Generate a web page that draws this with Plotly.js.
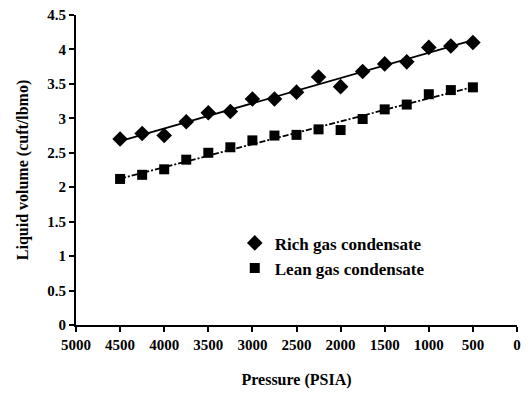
<!DOCTYPE html>
<html>
<head>
<meta charset="utf-8">
<script src="https://cdn.plot.ly/plotly-3.0.1.min.js"></script>
<style>html,body{margin:0;padding:0;background:#fff;}#chart{width:528px;height:396px;}</style>
</head>
<body>
<div id="chart"></div>
<script>
const pressure = [4500, 4250, 4000, 3750, 3500, 3250, 3000, 2750, 2500, 2250, 2000, 1750, 1500, 1250, 1000, 750, 500];
const richVolume = [2.70, 2.78, 2.75, 2.95, 3.08, 3.10, 3.28, 3.28, 3.38, 3.60, 3.46, 3.68, 3.79, 3.82, 4.03, 4.05, 4.10];
const leanVolume = [2.12, 2.18, 2.26, 2.40, 2.50, 2.58, 2.68, 2.75, 2.76, 2.84, 2.83, 2.99, 3.13, 3.20, 3.35, 3.41, 3.45];
const seriesNames = ['Rich gas condensate', 'Lean gas condensate'];

function fit(x, y) {
  const n = x.length;
  let sx = 0, sy = 0, sxx = 0, sxy = 0;
  for (let i = 0; i < n; i++) { sx += x[i]; sy += y[i]; sxx += x[i]*x[i]; sxy += x[i]*y[i]; }
  const b = (n*sxy - sx*sy) / (n*sxx - sx*sx);
  const a = (sy - b*sx) / n;
  const xs = [Math.max(...x), Math.min(...x)];
  return {x: xs, y: xs.map(v => a + b*v)};
}
const richFit = fit(pressure, richVolume);
const leanFit = fit(pressure, leanVolume);

const font = {family: 'Liberation Serif', color: '#000', weight: 700};
const f = s => Object.assign({size: s}, font);

const traces = [
  {x: richFit.x, y: richFit.y, mode: 'lines', line: {color: '#000', width: 1.8}, showlegend: false, hoverinfo: 'skip'},
  {x: leanFit.x, y: leanFit.y, mode: 'lines', line: {color: '#000', width: 1.8, dash: '6px,2px,2px,2px'}, showlegend: false, hoverinfo: 'skip'},
  {x: pressure, y: richVolume, mode: 'markers', name: seriesNames[0], marker: {symbol: 'diamond', size: 12, color: '#000'}},
  {x: pressure, y: leanVolume, mode: 'markers', name: seriesNames[1], marker: {symbol: 'square', size: 10, color: '#000'}}
];

const layout = {
  width: 528, height: 396,
  margin: {l: 76, r: 11, t: 15, b: 71},
  paper_bgcolor: '#fff', plot_bgcolor: '#fff',
  font: f(15),
  showlegend: true,
  legend: {x: 0.36, y: 0.223, xanchor: 'left', yanchor: 'middle', bgcolor: 'rgba(0,0,0,0)',
           font: f(17), itemwidth: 30, tracegroupgap: 0},
  xaxis: {
    range: [5000, 0], dtick: 500, tick0: 0,
    showgrid: false, zeroline: false,
    showline: true, linecolor: '#000', linewidth: 2,
    ticks: 'outside', ticklen: 5, tickwidth: 2, tickcolor: '#000',
    tickfont: f(15),
    title: {text: 'Pressure (PSIA)', font: f(16), standoff: 22}
  },
  yaxis: {
    range: [0, 4.5], dtick: 0.5,
    showgrid: false, zeroline: false,
    showline: true, linecolor: '#000', linewidth: 2,
    ticks: 'outside', ticklen: 5, tickwidth: 2, tickcolor: '#000',
    tickfont: f(15),
    title: {text: 'Liquid volume (cuft/lbmo)', font: f(16), standoff: 15}
  }
};

Plotly.newPlot('chart', traces, layout, {displayModeBar: false, staticPlot: true});
</script>
</body>
</html>
